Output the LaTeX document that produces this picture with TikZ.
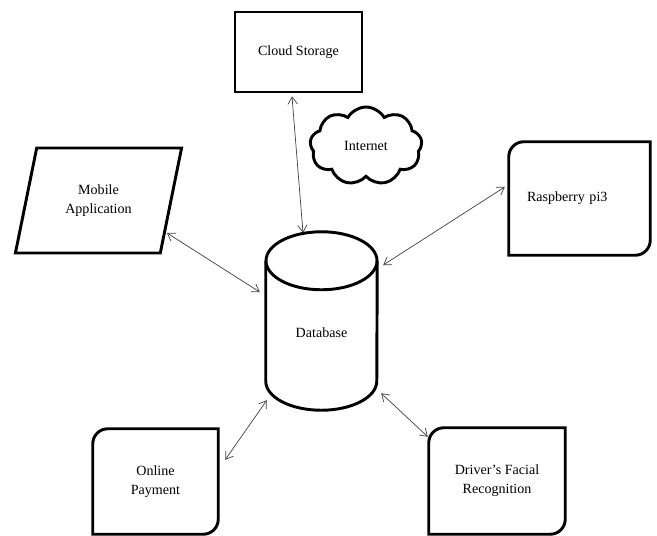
\documentclass[tikz,border=0pt]{standalone}
\usepackage{fontspec}
\setmainfont{Liberation Serif}
\usetikzlibrary{shapes.geometric,shapes.symbols,arrows.meta,calc}

\tikzset{
  frame/.style={line width=2.5pt},
  link/.style={<->,>={Straight Barb[length=6pt,width=8pt]},draw=black!75,line width=0.6pt},
  txt/.style={font=\fontsize{12}{16}\selectfont,align=center},
}

% box with rounded top left and bottom right corners
\newcommand{\diagframe}[1]{%
  \draw[frame] ([xshift=0.45cm]#1.north west) -- (#1.north east)
    -- ([yshift=0.45cm]#1.south east) arc[start angle=0,end angle=-90,radius=0.45cm]
    -- (#1.south west) -- ([yshift=-0.45cm]#1.north west)
    arc[start angle=180,end angle=90,radius=0.45cm] -- cycle;}

\begin{document}
\begin{tikzpicture}[x=0.03cm,y=-0.03cm]
  \useasboundingbox (0,0) rectangle (657,535);
  % nodes
  \node[draw,frame,txt,minimum width=3.81cm,minimum height=2.4cm] (cs) at (298.5,52) {Cloud Storage};
  \node[draw,frame,cloud,cloud puffs=9,cloud puff arc=120,aspect=1.4,
        minimum width=3.36cm,minimum height=2.34cm,txt] (net) at (366,146) {Internet};
  \node[draw,frame,trapezium,trapezium left angle=72,trapezium right angle=108,
        trapezium stretches=true,minimum width=5.01cm,minimum height=3.15cm,txt] (mob) at (98.5,200.5) {Mobile\\Application};
  \node[txt,align=left,text width=3.15cm,inner xsep=0.54cm,minimum height=3.39cm] (rpi) at (579.5,198.5) {Raspberry pi3};
  \node[txt,minimum width=3.75cm,minimum height=3.15cm] (pay) at (155.5,481.5) {Online\\Payment};
  \node[txt,minimum width=4.08cm,minimum height=3.18cm] (drv) at (497,481) {Driver’s Facial\\Recognition};
  \node[minimum width=3.33cm,minimum height=5.34cm] (db) at (321.5,321) {};
  \node[txt] (dbtext) at (321.5,333) {Database};
  % frames
  \diagframe{rpi}
  \diagframe{pay}
  \diagframe{drv}
  \draw[frame] ([yshift=-0.87cm]db.north) ellipse[x radius=1.665cm,y radius=0.87cm];
  \draw[frame] ([yshift=-0.87cm]db.north west) -- ([yshift=0.87cm]db.south west)
    arc[start angle=180,end angle=360,x radius=1.665cm,y radius=0.87cm]
    -- ([yshift=-0.87cm]db.north east);
  % links
  \draw[link] ($(cs.south)+(-6.5,3)$) -- ($(db.north)+(-18.5,1)$);
  \draw[link] ($(mob.center)+(68.5,32.5)$) -- ($(db.west)+(-6,-29)$);
  \draw[link] ($(rpi.west)+(-4,-11.5)$) -- ($(db.east)+(6,-56)$);
  \draw[link] ($(pay.north east)+(7,31)$) -- ($(db.south west)+(1,-10)$);
  \draw[link] ($(db.south east)+(4,-17)$) -- ($(drv.north west)+(-1,9)$);
\end{tikzpicture}
\end{document}
